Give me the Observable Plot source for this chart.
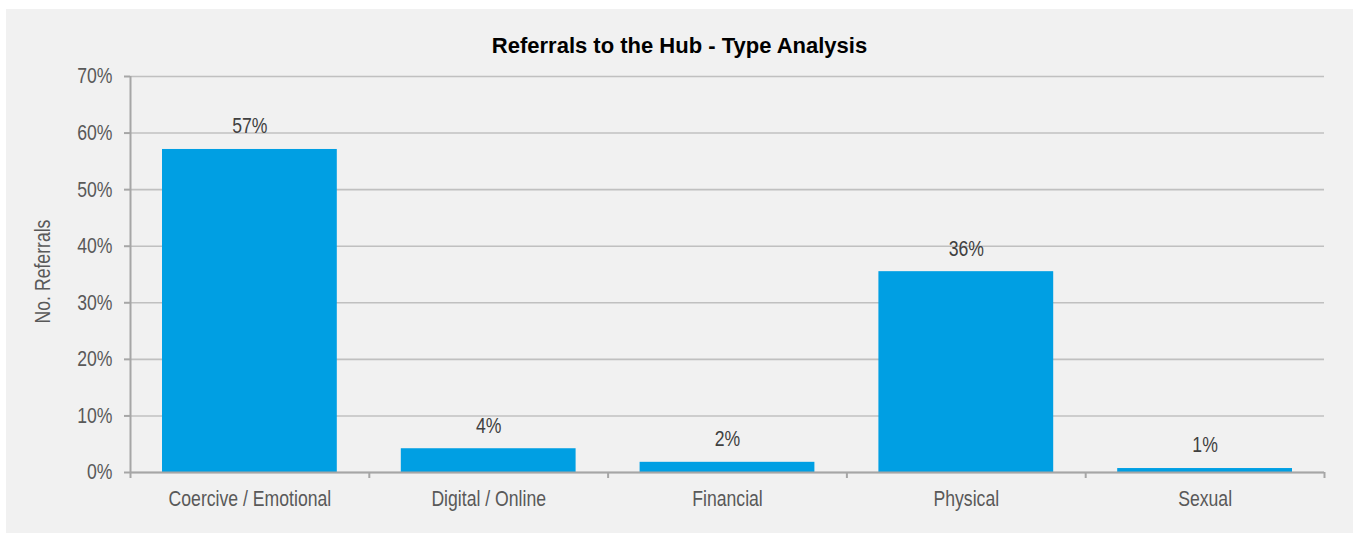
<!DOCTYPE html>
<html><head><meta charset="utf-8">
<script src="https://cdn.jsdelivr.net/npm/d3@7"></script>
<script src="https://cdn.jsdelivr.net/npm/@observablehq/plot@0.6"></script>
<style>
body{margin:0;background:#fff;}
#panel{position:absolute;left:6px;top:9px;width:1347px;height:524px;background:#f1f1f1;}
#title{position:absolute;left:0;width:100%;top:24px;text-align:center;font-family:"Liberation Sans",Arial,sans-serif;font-weight:bold;font-size:22px;color:#000;z-index:2;}
#chart{position:absolute;left:0;top:0;}
</style></head><body>
<div id="panel"><div id="title">Referrals to the Hub - Type Analysis</div><div id="chart"></div></div>
<script>
const categories = ["Coercive / Emotional", "Digital / Online", "Financial", "Physical", "Sexual"];
const values = [57.1, 4.2, 1.8, 35.5, 0.7];
const yTicks = [0, 10, 20, 30, 40, 50, 60, 70];
const yLabel = "No. Referrals";

const data = categories.map((c, i) => ({category: c, index: i, value: values[i]}));
const barInset = 0.134;
const font = '"Liberation Sans Narrow","Arial Narrow","Liberation Sans",Arial,sans-serif';
const axisColor = "#a6a6a6";
const fs = 21.5;

const chart = Plot.plot({
  width: 1347, height: 524,
  marginTop: 67, marginBottom: 61, marginLeft: 124, marginRight: 29,
  style: {background: "transparent", fontFamily: font, fontSize: fs + "px", color: "#595959"},
  x: {type: "linear", domain: [0, categories.length], axis: null},
  y: {domain: [0, 70], axis: null},
  marks: [
    Plot.gridY(yTicks, {stroke: "#c0c0c0", strokeOpacity: 1, strokeWidth: 1.6}),
    Plot.rectY(data, {x1: d => d.index + barInset, x2: d => d.index + 1 - barInset, y1: 0, y2: "value", fill: "#009fe3"}),
    Plot.ruleY([0], {stroke: axisColor, strokeWidth: 2}),
    Plot.ruleX([0], {stroke: axisColor, strokeWidth: 2}),
    Plot.axisY(yTicks, {tickFormat: d => d + "%", tickSize: 6, tickPadding: 12, stroke: axisColor, strokeWidth: 2, fill: "#595959", fontSize: fs, label: null}),
    Plot.axisX(d3.range(categories.length + 1), {tickSize: 6, tickFormat: () => "", stroke: axisColor, strokeWidth: 2, label: null}),
    Plot.axisX(categories.map((c, i) => i + 0.5), {tickSize: 0, tickPadding: 18, tickFormat: d => categories[Math.floor(d)], fill: "#595959", fontSize: fs, label: null}),
    Plot.text(data, {x: d => d.index + 0.5, y: "value", text: d => Math.round(d.value) + "%", dy: -23, fill: "#404040", fontSize: fs}),
    Plot.text([yLabel], {frameAnchor: "left", textAnchor: "middle", rotate: -90, dx: -87, dy: -3, fill: "#595959", fontSize: fs})
  ]
});
// The reference uses a condensed face (Arial Narrow); emulate it by narrowing each label about its anchor.
const narrow = 0.82;
chart.querySelectorAll("text").forEach(t => {
  const tr = t.getAttribute("transform");
  if (tr) {
    t.setAttribute("transform", tr + ` scale(${narrow},1)`);
  } else {
    const x = +t.getAttribute("x") || 0;
    t.setAttribute("transform", `translate(${x},0) scale(${narrow},1) translate(${-x},0)`);
  }
});
document.getElementById("chart").append(chart);
</script>
</body></html>
